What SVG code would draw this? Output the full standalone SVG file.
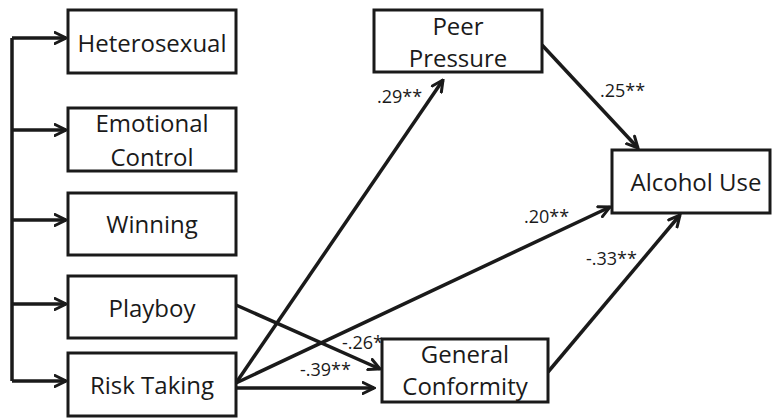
<svg xmlns="http://www.w3.org/2000/svg" width="772" height="418" viewBox="0 0 772 418">
<style>
.box{fill:#fff;stroke:#1a1a1a;stroke-width:3}
.t{font-family:"Open Sans","Liberation Sans",sans-serif;font-size:24px;fill:#1a1a1a;text-anchor:middle}
.c{stroke:#1a1a1a;stroke-width:3.5;fill:none}
.l{font-family:"Open Sans","Liberation Sans",sans-serif;font-size:18px;fill:#1a1a1a}
</style>
<defs>
<marker id="ah" viewBox="0 0 14 14" refX="12.5" refY="7" markerWidth="14" markerHeight="14" markerUnits="userSpaceOnUse" orient="auto">
<path d="M1.5,1.5 L12.5,7 L1.5,12.5" fill="none" stroke="#1a1a1a" stroke-width="3" stroke-linecap="round" stroke-linejoin="miter"/>
</marker>
</defs>
<g id="connectors">
<path class="c" d="M12,38 V381"/>
<path class="c" d="M12,38 H66" marker-end="url(#ah)"/>
<path class="c" d="M12,130 H66" marker-end="url(#ah)"/>
<path class="c" d="M12,220 H66" marker-end="url(#ah)"/>
<path class="c" d="M12,304 H66" marker-end="url(#ah)"/>
<path class="c" d="M12,381 H66" marker-end="url(#ah)"/>
<path class="c" d="M236,383 L443,80" marker-end="url(#ah)"/>
<path class="c" d="M236,383 L610,207" marker-end="url(#ah)"/>
<path class="c" d="M236,388 L374,388" marker-end="url(#ah)"/>
<path class="c" d="M236,305 L380,369" marker-end="url(#ah)"/>
<path class="c" d="M542,45 L638,148" marker-end="url(#ah)"/>
<path class="c" d="M548,372 L680,215" marker-end="url(#ah)"/>
<text class="l" x="377" y="103">.29**</text>
<text class="l" x="600" y="97">.25**</text>
<text class="l" x="524" y="223">.20**</text>
<text class="l" x="586" y="265">-.33**</text>
<text class="l" x="342" y="349">-.26*</text>
<text class="l" x="300" y="376">-.39**</text>
</g>
<g id="heterosexual">
<rect class="box" x="68" y="10" width="168" height="63"/>
<text class="t" x="152" y="52">Heterosexual</text>
</g>
<g id="emotional-control">
<rect class="box" x="68" y="108" width="168" height="63"/>
<text class="t" x="152" y="132">Emotional</text>
<text class="t" x="152" y="166">Control</text>
</g>
<g id="winning">
<rect class="box" x="68" y="193" width="168" height="62"/>
<text class="t" x="152" y="233">Winning</text>
</g>
<g id="playboy">
<rect class="box" x="68" y="276" width="168" height="62"/>
<text class="t" x="152" y="317">Playboy</text>
</g>
<g id="risk-taking">
<rect class="box" x="68" y="353" width="168" height="63"/>
<text class="t" x="152" y="394">Risk Taking</text>
</g>
<g id="peer-pressure">
<rect class="box" x="374" y="10" width="168" height="62"/>
<text class="t" x="458" y="35">Peer</text>
<text class="t" x="458" y="67">Pressure</text>
</g>
<g id="alcohol-use">
<rect class="box" x="612" y="150" width="158" height="63"/>
<text class="t" x="696" y="191">Alcohol Use</text>
</g>
<g id="general-conformity">
<rect class="box" x="382" y="339" width="166" height="63"/>
<text class="t" x="465" y="363">General</text>
<text class="t" x="465" y="395">Conformity</text>
</g>
</svg>
